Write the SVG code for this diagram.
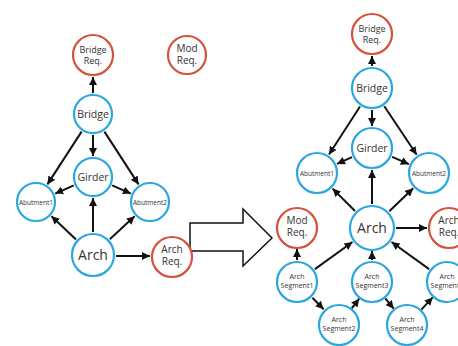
<svg xmlns="http://www.w3.org/2000/svg" width="458" height="346" viewBox="0 0 458 346">
<style>
.b{fill:#fff;stroke:#2aa7df;stroke-width:2.2}
.r{fill:#fff;stroke:#d5533d;stroke-width:2.2}
text{font-family:"Open Sans","Noto Sans","DejaVu Sans",sans-serif;fill:#333;text-anchor:middle}
.c line{stroke:#111;stroke-width:2;marker-end:url(#ah)}
.s10{font-size:10.5px}.s9{font-size:9px}.s14{font-size:14px}.s6{font-size:6.5px}.s7{font-size:7px}.s10r{font-size:10px}
</style>
<defs>
<marker id="ah" markerUnits="userSpaceOnUse" markerWidth="9" markerHeight="8" refX="8" refY="4" orient="auto">
<path d="M0,0 L8,4 L0,8 z" fill="#111"/>
</marker>
</defs>
<rect width="458" height="346" fill="#fff"/>
<g class="c" id="connectors">
<line x1="93" y1="93" x2="93" y2="77"/>
<line x1="93" y1="135" x2="93" y2="156"/>
<line x1="81.6" y1="131.6" x2="47.4" y2="184.4"/>
<line x1="104.4" y1="131.6" x2="138.6" y2="184.4"/>
<line x1="73.8" y1="185.4" x2="55.2" y2="193.6"/>
<line x1="112.2" y1="185.4" x2="130.8" y2="193.6"/>
<line x1="76" y1="239.5" x2="51.5" y2="216.2"/>
<line x1="109.8" y1="239.3" x2="134.6" y2="216.3"/>
<line x1="93" y1="232" x2="93" y2="198"/>
<line x1="116" y1="256" x2="150" y2="256"/>
<line x1="372" y1="66" x2="372" y2="56"/>
<line x1="372" y1="110" x2="372" y2="126"/>
<line x1="360" y1="106.5" x2="329" y2="154.5"/>
<line x1="384.3" y1="106.3" x2="416.7" y2="154.7"/>
<line x1="352" y1="157.1" x2="337" y2="163.9"/>
<line x1="392.1" y1="156.8" x2="408.9" y2="164.2"/>
<line x1="372" y1="204" x2="372" y2="170"/>
<line x1="355" y1="211" x2="332.6" y2="188.6"/>
<line x1="389.3" y1="211.3" x2="413.2" y2="188.3"/>
<line x1="396" y1="228" x2="427" y2="228"/>
<line x1="297" y1="260" x2="297" y2="249"/>
<line x1="372" y1="260" x2="372" y2="251"/>
<line x1="314.9" y1="269.1" x2="352.5" y2="242"/>
<line x1="429.1" y1="269.1" x2="391.5" y2="242"/>
<line x1="312.4" y1="297.7" x2="323.6" y2="309.3"/>
<line x1="351.8" y1="308.3" x2="359.2" y2="298.7"/>
<line x1="385.3" y1="298.3" x2="393.7" y2="308.7"/>
<line x1="421.3" y1="309.6" x2="432.7" y2="297.4"/>
</g>
<g id="bigarrow"><polygon points="190,223 243,223 243,209 272,238 243,266 243,251 190,251" fill="#fff" stroke="#111" stroke-width="1.5"/></g>
<g id="L_bridgereq"><circle class="r" cx="93" cy="55" r="20"/><text class="s9" x="93" y="53">Bridge</text><text class="s9" x="93" y="64">Req.</text></g>
<g id="L_modreq"><circle class="r" cx="187" cy="55" r="19"/><text class="s10r" x="187" y="52">Mod</text><text class="s10r" x="187" y="64">Req.</text></g>
<g id="L_bridge"><circle class="b" cx="93" cy="114" r="19"/><text class="s10" x="93" y="118">Bridge</text></g>
<g id="L_girder"><circle class="b" cx="93" cy="177" r="19"/><text class="s10" x="93" y="181">Girder</text></g>
<g id="L_abut1"><circle class="b" cx="36" cy="202" r="19"/><text class="s6" x="36" y="204.5">Abutment1</text></g>
<g id="L_abut2"><circle class="b" cx="150" cy="202" r="19"/><text class="s6" x="150" y="204.5">Abutment2</text></g>
<g id="L_arch"><circle class="b" cx="93" cy="255" r="21"/><text class="s14" x="93" y="260">Arch</text></g>
<g id="L_archreq"><circle class="r" cx="172" cy="257" r="20"/><text class="s10r" x="172" y="253">Arch</text><text class="s10r" x="172" y="265">Req.</text></g>
<g id="R_bridgereq"><circle class="r" cx="372" cy="34" r="20"/><text class="s9" x="372" y="32">Bridge</text><text class="s9" x="372" y="43">Req.</text></g>
<g id="R_bridge"><circle class="b" cx="372" cy="88" r="20"/><text class="s10" x="372" y="92">Bridge</text></g>
<g id="R_girder"><circle class="b" cx="372" cy="148" r="20"/><text class="s10" x="372" y="152">Girder</text></g>
<g id="R_abut1"><circle class="b" cx="317" cy="173" r="20"/><text class="s6" x="317" y="175.5">Abutment1</text></g>
<g id="R_abut2"><circle class="b" cx="429" cy="173" r="20"/><text class="s6" x="429" y="175.5">Abutment2</text></g>
<g id="R_arch"><circle class="b" cx="372" cy="228" r="22"/><text class="s14" x="372" y="233">Arch</text></g>
<g id="R_modreq"><circle class="r" cx="297" cy="228" r="20"/><text class="s10r" x="297" y="224">Mod</text><text class="s10r" x="297" y="236">Req.</text></g>
<g id="R_archreq"><circle class="r" cx="449" cy="228" r="20"/><text class="s10r" x="449" y="224">Arch</text><text class="s10r" x="449" y="236">Req.</text></g>
<g id="R_seg1"><circle class="b" cx="297" cy="282" r="20"/><text class="s7" x="297" y="279">Arch</text><text class="s7" x="297" y="288">Segment1</text></g>
<g id="R_seg2"><circle class="b" cx="339" cy="325" r="20"/><text class="s7" x="339" y="322">Arch</text><text class="s7" x="339" y="331">Segment2</text></g>
<g id="R_seg3"><circle class="b" cx="372" cy="282" r="20"/><text class="s7" x="372" y="279">Arch</text><text class="s7" x="372" y="288">Segment3</text></g>
<g id="R_seg4"><circle class="b" cx="407" cy="325" r="20"/><text class="s7" x="407" y="322">Arch</text><text class="s7" x="407" y="331">Segment4</text></g>
<g id="R_seg5"><circle class="b" cx="447" cy="282" r="20"/><text class="s7" x="447" y="279">Arch</text><text class="s7" x="447" y="288">Segment5</text></g>
</svg>
